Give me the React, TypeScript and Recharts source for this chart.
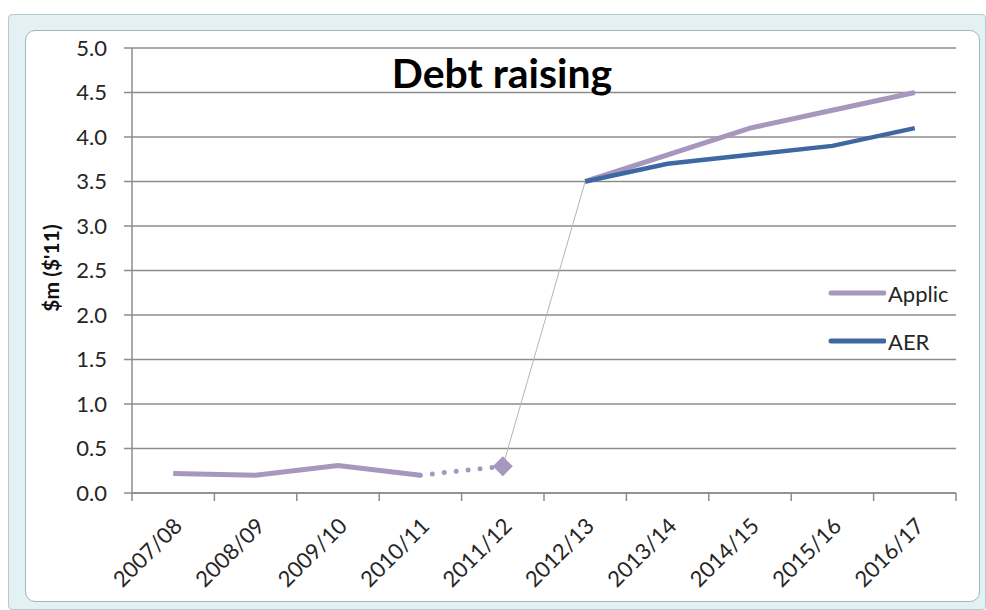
import React from 'react';
import { LineChart, Line, XAxis, YAxis, CartesianGrid } from 'recharts';

const categories = ['2007/08', '2008/09', '2009/10', '2010/11', '2011/12', '2012/13', '2013/14', '2014/15', '2015/16', '2016/17'];
const applicActual = [0.22, 0.2, 0.31, 0.2, null, null, null, null, null, null];
const applicEstimate = [null, null, null, 0.2, 0.3, null, null, null, null, null];
const applicPoint = [null, null, null, null, 0.3, null, null, null, null, null];
const applicBridge = [null, null, null, null, 0.3, 3.5, null, null, null, null];
const applicForecast = [null, null, null, null, null, 3.5, 3.8, 4.1, 4.3, 4.5];
const aerForecast = [null, null, null, null, null, 3.5, 3.7, 3.8, 3.9, 4.1];
const yTicks = [0, 0.5, 1, 1.5, 2, 2.5, 3, 3.5, 4, 4.5, 5];
const legendNames = ['Applic', 'AER'];

const data = categories.map((year, i) => ({
    year,
    applicActual: applicActual[i],
    applicEstimate: applicEstimate[i],
    applicPoint: applicPoint[i],
    applicBridge: applicBridge[i],
    applicForecast: applicForecast[i],
    aerForecast: aerForecast[i],
}));

const FONT = 'Lato, "Open Sans", sans-serif';
const APPLIC = '#a597bd';
const AER = '#3e68a2';
const GRID = '#8c8c8c';
const TEXT = '#262626';
const HALF_BAND = 41.2;

// category label + excel style tick marks on the band edges
const YearTick = ({ x, y, payload, index }: any) => (
    <g>
        <line x1={x - HALF_BAND} y1={y} x2={x - HALF_BAND} y2={y + 8} stroke={GRID} strokeWidth={1.5} />
        {index === categories.length - 1 && (
            <line x1={x + HALF_BAND} y1={y} x2={x + HALF_BAND} y2={y + 8} stroke={GRID} strokeWidth={1.5} />
        )}
        <g transform={`translate(${x + 5},${y + 29})`}>
            <text transform="rotate(-45)" textAnchor="end" dy="0.35em" fontSize={22} fill={TEXT} fontFamily={FONT}>
                {payload.value}
            </text>
        </g>
    </g>
);

const Diamond = ({ cx, cy }: any) => {
    if (cx == null || cy == null) return null;
    return <polygon points={`${cx},${cy - 10} ${cx + 10},${cy} ${cx},${cy + 10} ${cx - 10},${cy}`} fill={APPLIC} />;
};

export default function App() {
    const legendColors = [APPLIC, AER];
    return (
        <div style={{ position: 'absolute', left: 0, top: 0, width: 986, height: 610, background: '#fff' }}>
            {/* Excel-like chart frame */}
            <div style={{ position: 'absolute', left: 8, top: 14, width: 976, height: 594, background: '#e4f1f4', border: '1px solid #b3ccd2', borderRadius: 4 }} />
            <div style={{ position: 'absolute', left: 25, top: 30, width: 953, height: 570, background: '#fff', border: '1px solid #9db8bf', borderRadius: 10 }} />

            <div style={{ position: 'absolute', left: 0, top: 0 }}>
                <LineChart width={986} height={610} data={data} margin={{ top: 48, right: 30, bottom: 87, left: 0 }}>
                    <CartesianGrid vertical={false} stroke={GRID} strokeWidth={1.5} />
                    <XAxis
                        dataKey="year"
                        height={30}
                        padding={{ left: HALF_BAND, right: HALF_BAND }}
                        interval={0}
                        tickLine={false}
                        tickSize={0}
                        tickMargin={0}
                        stroke={GRID}
                        strokeWidth={1.5}
                        tick={<YearTick />}
                    />
                    <YAxis
                        width={132}
                        domain={[0, 5]}
                        ticks={yTicks}
                        tickFormatter={(v: number) => v.toFixed(1)}
                        tickSize={8}
                        tickMargin={17}
                        stroke={GRID}
                        strokeWidth={1.5}
                        tick={{ fontSize: 22, fill: TEXT, fontFamily: FONT }}
                        label={{
                            content: () => (
                                <text x={50} y={268} transform="rotate(-90, 50, 268)" textAnchor="middle" dominantBaseline="central" fontSize={21} fontWeight="bold" fill="#111" fontFamily={FONT}>
                                    $m ($'11)
                                </text>
                            ),
                        }}
                    />
                    <Line dataKey="applicBridge" stroke="#b5b5b5" strokeWidth={1} dot={false} isAnimationActive={false} />
                    <Line dataKey="applicActual" stroke={APPLIC} strokeWidth={5} dot={false} isAnimationActive={false} />
                    <Line dataKey="applicEstimate" stroke={APPLIC} strokeWidth={5} strokeDasharray="0 12" strokeLinecap="round" dot={false} isAnimationActive={false} />
                    <Line dataKey="applicPoint" stroke="none" dot={<Diamond />} isAnimationActive={false} />
                    <Line dataKey="applicForecast" name="Applic" stroke={APPLIC} strokeWidth={5} dot={false} isAnimationActive={false} />
                    <Line dataKey="aerForecast" name="AER" stroke={AER} strokeWidth={4.5} dot={false} isAnimationActive={false} />
                </LineChart>
            </div>

            {/* legend */}
            <div style={{ position: 'absolute', left: 828, top: 269, fontFamily: FONT, fontSize: 22, color: TEXT }}>
                {legendNames.map((name, i) => (
                    <div key={name} style={{ display: 'flex', alignItems: 'center', height: 48 }}>
                        <svg width={58} height={8}>
                            <line x1={3} y1={4} x2={56} y2={4} stroke={legendColors[i]} strokeWidth={5} strokeLinecap="round" />
                        </svg>
                        <span style={{ marginLeft: 2 }}>{name}</span>
                    </div>
                ))}
            </div>

            <div style={{ position: 'absolute', left: 300, width: 404, top: 53, textAlign: 'center', fontFamily: FONT, fontWeight: 'bold', fontSize: 41, lineHeight: '40px', color: '#000' }}>
                Debt raising
            </div>
        </div>
    );
}
